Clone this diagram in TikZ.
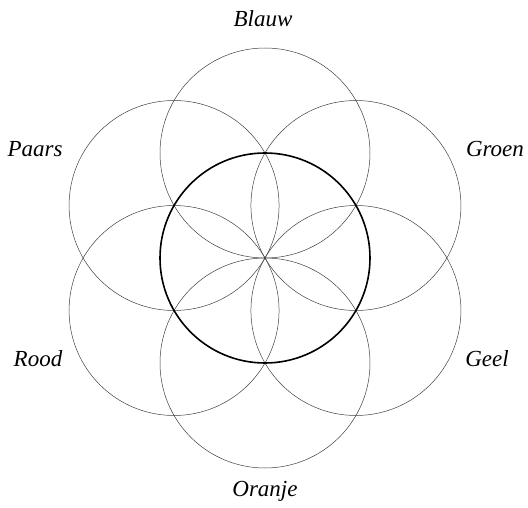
\documentclass[tikz,border=0pt]{standalone}
\usepackage{fontspec}
\setmainfont{Liberation Serif}
\usetikzlibrary{calc}
\begin{document}
\begin{tikzpicture}[x=1pt,y=-1pt,
  thinring/.style={circle,draw=black!75,line width=0.5pt,minimum size=210pt,inner sep=0pt},
  boldring/.style={circle,draw=black,line width=1.6pt,minimum size=210pt,inner sep=0pt},
  lab/.style={font=\fontsize{23}{24}\selectfont\itshape,inner sep=0pt}]
\useasboundingbox (0,0) rectangle (528,508);
\coordinate (o) at (265,258);
\foreach \a/\n in {90/b,30/g,-30/y,-90/o2,-150/r,150/p}{
  \node[thinring] (c\n) at ($(o)+(\a:105)$) {};
}
\node[boldring] (cc) at (o) {};
\node[lab] (lb) at (263,19) {Blauw};
\node[lab] (lg) at (495,149) {Groen};
\node[lab] (ly) at (487,359) {Geel};
\node[lab] (lo) at (265,491) {Oranje};
\node[lab] (lr) at (38,359) {Rood};
\node[lab] (lp) at (35,149) {Paars};
\end{tikzpicture}
\end{document}
